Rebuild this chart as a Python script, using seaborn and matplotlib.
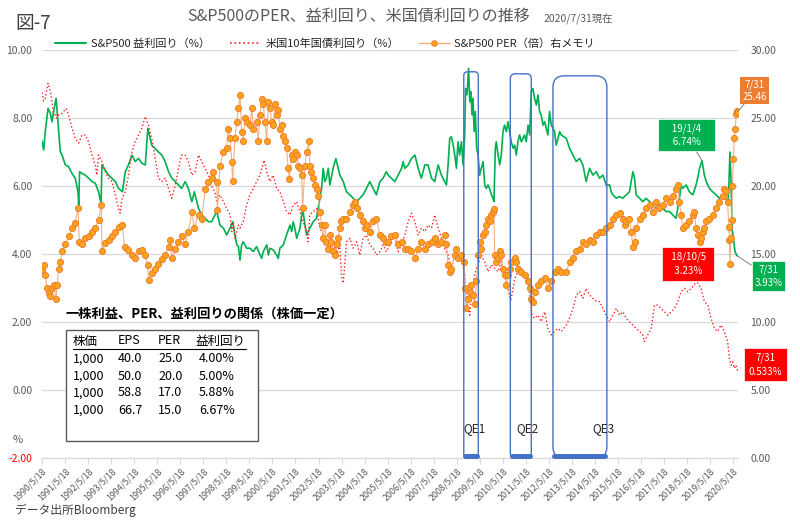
import matplotlib
matplotlib.use("Agg")
import matplotlib.pyplot as plt
from matplotlib.lines import Line2D
from matplotlib.patches import FancyBboxPatch, Rectangle
from matplotlib.ticker import FormatStrFormatter
import pandas as pd
import seaborn as sns

# S&P500 PER (right axis), x in decimal years
per_year = [
    1990.38, 1990.45, 1990.52, 1990.60, 1990.67, 1990.74, 1990.81, 1990.88, 1990.99, 1991.03,
    1991.10, 1991.17, 1991.25, 1991.39, 1991.53, 1991.68, 1991.82, 1991.94, 1992.00, 1992.11,
    1992.26, 1992.40, 1992.55, 1992.69, 1992.83, 1992.95, 1992.98, 1993.12, 1993.27, 1993.41,
    1993.56, 1993.70, 1993.87, 1993.96, 1994.13, 1994.28, 1994.42, 1994.57, 1994.71, 1994.86,
    1994.96, 1995.00, 1995.14, 1995.29, 1995.43, 1995.58, 1995.72, 1995.87, 1995.94, 1996.01,
    1996.16, 1996.30, 1996.44, 1996.59, 1996.73, 1996.88, 1996.99, 1997.17, 1997.31, 1997.46,
    1997.60, 1997.74, 1997.81, 1997.96, 1997.99, 1998.10, 1998.25, 1998.39, 1998.46, 1998.54,
    1998.61, 1998.65, 1998.75, 1998.83, 1998.90, 1998.97, 1999.04, 1999.11, 1999.19, 1999.26,
    1999.40, 1999.48, 1999.55, 1999.69, 1999.76, 1999.84, 1999.91, 1999.98, 2000.05, 2000.13,
    2000.20, 2000.27, 2000.34, 2000.41, 2000.49, 2000.56, 2000.63, 2000.70, 2000.78, 2000.85,
    2000.92, 2000.99, 2001.06, 2001.11, 2001.21, 2001.28, 2001.35, 2001.43, 2001.50, 2001.57,
    2001.64, 2001.69, 2001.79, 2001.86, 2001.96, 2002.00, 2002.07, 2002.15, 2002.22, 2002.29,
    2002.36, 2002.44, 2002.51, 2002.58, 2002.65, 2002.72, 2002.80, 2002.87, 2002.94, 2003.01,
    2003.11, 2003.16, 2003.23, 2003.30, 2003.37, 2003.45, 2003.59, 2003.74, 2003.88, 2003.95,
    2004.03, 2004.17, 2004.31, 2004.39, 2004.46, 2004.60, 2004.75, 2004.89, 2005.04, 2005.18,
    2005.32, 2005.40, 2005.54, 2005.69, 2005.83, 2005.98, 2006.12, 2006.27, 2006.41, 2006.56,
    2006.70, 2006.84, 2006.99, 2007.13, 2007.28, 2007.42, 2007.57, 2007.71, 2007.85, 2007.93,
    2008.00, 2008.07, 2008.14, 2008.29, 2008.36, 2008.43, 2008.58, 2008.69, 2008.75, 2008.79,
    2008.87, 2008.94, 2009.01, 2009.08, 2009.15, 2009.23, 2009.30, 2009.37, 2009.44, 2009.52,
    2009.59, 2009.66, 2009.73, 2009.80, 2009.88, 2009.95, 2009.99, 2010.02, 2010.09, 2010.17,
    2010.24, 2010.31, 2010.38, 2010.45, 2010.53, 2010.60, 2010.67, 2010.74, 2010.89, 2010.96,
    2011.03, 2011.18, 2011.32, 2011.47, 2011.54, 2011.61, 2011.68, 2011.75, 2011.90, 2012.04,
    2012.19, 2012.33, 2012.48, 2012.62, 2012.77, 2012.91, 2013.13, 2013.27, 2013.42, 2013.56,
    2013.71, 2013.85, 2013.99, 2014.14, 2014.28, 2014.43, 2014.57, 2014.72, 2014.86, 2015.01,
    2015.15, 2015.30, 2015.44, 2015.58, 2015.66, 2015.73, 2015.87, 2015.95, 2016.02, 2016.09,
    2016.16, 2016.31, 2016.45, 2016.59, 2016.74, 2016.88, 2017.03, 2017.17, 2017.32, 2017.46,
    2017.61, 2017.75, 2017.89, 2017.97, 2018.04, 2018.11, 2018.18, 2018.33, 2018.47, 2018.62,
    2018.69, 2018.76, 2018.83, 2018.91, 2018.98, 2019.05, 2019.12, 2019.20, 2019.34, 2019.48,
    2019.63, 2019.77, 2019.92, 2019.99, 2020.06, 2020.13, 2020.18, 2020.20, 2020.23, 2020.27,
    2020.30, 2020.34, 2020.38, 2020.42, 2020.46, 2020.50, 2020.54, 2020.58,
]
per_value = [
    13.8, 14.2, 13.45, 12.5, 12.1, 11.9, 12.5, 12.7, 11.7, 12.7,
    13.9, 14.4, 15.2, 15.7, 16.3, 16.9, 17.3, 18.4, 15.9, 15.7,
    16.2, 16.3, 16.6, 16.9, 17.5, 18.6, 15.2, 15.8, 16.0, 16.3,
    16.6, 17.0, 17.1, 15.5, 15.3, 14.9, 14.7, 15.2, 15.3, 14.9,
    14.2, 13.1, 13.6, 13.9, 14.3, 14.6, 14.9, 15.5, 16.0, 14.7,
    15.4, 15.9, 16.3, 15.7, 16.6, 18.1, 16.9, 17.9, 17.6, 19.8,
    20.3, 20.6, 21.0, 20.3, 18.2, 21.5, 22.5, 22.8, 24.2, 23.5,
    21.8, 20.4, 23.5, 24.7, 25.7, 26.7, 24.0, 23.3, 25.0, 24.7,
    24.5, 25.7, 24.2, 24.7, 23.3, 25.2, 26.4, 26.0, 24.7, 23.3,
    26.2, 25.7, 24.7, 24.5, 26.0, 25.2, 25.6, 24.2, 24.5, 23.7,
    23.3, 22.8, 21.3, 20.5, 22.3, 22.0, 22.5, 22.3, 21.5, 21.3,
    20.8, 18.4, 21.5, 22.5, 23.3, 21.5, 21.0, 20.6, 20.1, 19.8,
    19.3, 18.1, 17.1, 16.2, 17.1, 15.9, 15.4, 16.4, 15.9, 15.2,
    14.9, 15.7, 16.2, 16.9, 17.4, 17.6, 17.6, 18.1, 18.6, 18.8,
    18.4, 17.9, 17.4, 16.9, 17.1, 16.6, 17.4, 17.6, 16.4, 16.2,
    15.9, 15.9, 16.3, 16.4, 15.7, 15.9, 15.4, 15.4, 15.2, 14.7,
    15.4, 15.9, 15.4, 15.7, 15.9, 16.2, 15.7, 15.9, 16.4, 15.7,
    14.2, 13.7, 13.9, 14.9, 15.4, 14.7, 14.9, 14.4, 12.5, 11.0,
    11.7, 12.2, 12.7, 12.0, 11.3, 13.0, 14.9, 15.9, 15.4, 16.4,
    16.6, 17.1, 17.6, 17.4, 17.9, 18.1, 18.3, 14.9, 14.4, 14.7,
    15.2, 14.9, 13.9, 13.45, 12.7, 13.45, 13.9, 14.4, 14.7, 14.4,
    13.9, 13.7, 13.45, 13.0, 12.5, 11.7, 11.5, 12.2, 12.7, 13.0,
    13.2, 12.5, 13.0, 13.7, 13.9, 13.7, 13.7, 14.4, 14.7, 15.2,
    15.4, 15.9, 15.7, 16.0, 15.9, 16.4, 16.6, 16.6, 16.9, 17.1,
    17.6, 17.9, 18.0, 17.6, 17.1, 17.4, 17.6, 16.6, 15.5, 15.9,
    16.9, 17.6, 17.9, 18.4, 18.6, 18.1, 18.8, 18.4, 18.6, 19.1,
    18.8, 19.3, 19.8, 20.1, 18.8, 17.9, 16.9, 17.1, 17.4, 17.9,
    18.1, 16.9, 16.4, 15.9, 16.2, 16.6, 16.9, 17.4, 17.6, 17.9,
    18.4, 18.8, 19.3, 19.8, 19.6, 18.8, 17.0, 16.0, 14.3, 16.2,
    17.5, 20.0, 22.0, 23.5, 24.2, 25.3, 25.5, 25.46,
]

# S&P500 earnings yield (%), left axis
ey_year = [
    1990.38, 1990.45, 1990.52, 1990.64, 1990.74, 1990.81, 1990.88, 1990.96, 1990.99, 1991.07,
    1991.17, 1991.25, 1991.39, 1991.53, 1991.68, 1991.82, 1991.94, 1991.97, 1992.01, 1992.11,
    1992.26, 1992.40, 1992.55, 1992.69, 1992.83, 1992.94, 1992.98, 1993.12, 1993.27, 1993.41,
    1993.56, 1993.70, 1993.87, 1993.99, 1994.13, 1994.28, 1994.42, 1994.57, 1994.71, 1994.86,
    1994.97, 1995.07, 1995.14, 1995.29, 1995.43, 1995.58, 1995.72, 1995.87, 1996.01, 1996.16,
    1996.30, 1996.44, 1996.59, 1996.73, 1996.88, 1996.99, 1997.17, 1997.31, 1997.46, 1997.60,
    1997.74, 1997.81, 1997.96, 1998.10, 1998.25, 1998.39, 1998.54, 1998.65, 1998.75, 1998.83,
    1998.90, 1998.97, 1999.04, 1999.11, 1999.26, 1999.40, 1999.55, 1999.69, 1999.84, 1999.91,
    1999.98, 2000.13, 2000.20, 2000.27, 2000.41, 2000.56, 2000.63, 2000.70, 2000.85, 2000.99,
    2001.14, 2001.21, 2001.28, 2001.35, 2001.43, 2001.57, 2001.69, 2001.79, 2001.86, 2002.00,
    2002.15, 2002.29, 2002.44, 2002.51, 2002.58, 2002.65, 2002.72, 2002.80, 2002.87, 2003.01,
    2003.13, 2003.23, 2003.30, 2003.45, 2003.59, 2003.74, 2003.88, 2004.03, 2004.17, 2004.31,
    2004.46, 2004.60, 2004.75, 2004.89, 2005.04, 2005.18, 2005.32, 2005.40, 2005.54, 2005.69,
    2005.83, 2005.98, 2006.05, 2006.12, 2006.27, 2006.41, 2006.56, 2006.70, 2006.84, 2006.99,
    2007.13, 2007.28, 2007.42, 2007.57, 2007.71, 2007.85, 2007.93, 2008.00, 2008.07, 2008.14,
    2008.22, 2008.29, 2008.36, 2008.43, 2008.50, 2008.58, 2008.65, 2008.72, 2008.76, 2008.82,
    2008.87, 2008.89, 2008.94, 2008.98, 2009.04, 2009.08, 2009.13, 2009.18, 2009.24, 2009.30,
    2009.37, 2009.44, 2009.52, 2009.59, 2009.66, 2009.73, 2009.80, 2009.88, 2009.95, 2009.99,
    2010.05, 2010.09, 2010.17, 2010.24, 2010.31, 2010.38, 2010.45, 2010.53, 2010.60, 2010.67,
    2010.74, 2010.82, 2010.89, 2010.96, 2011.03, 2011.10, 2011.18, 2011.25, 2011.32, 2011.39,
    2011.47, 2011.54, 2011.61, 2011.68, 2011.75, 2011.83, 2011.90, 2011.97, 2012.04, 2012.12,
    2012.19, 2012.26, 2012.33, 2012.40, 2012.48, 2012.55, 2012.62, 2012.69, 2012.77, 2012.84,
    2012.91, 2013.13, 2013.27, 2013.42, 2013.56, 2013.71, 2013.85, 2013.99, 2014.14, 2014.28,
    2014.43, 2014.57, 2014.72, 2014.86, 2015.01, 2015.08, 2015.15, 2015.30, 2015.44, 2015.58,
    2015.73, 2015.87, 2016.02, 2016.09, 2016.16, 2016.31, 2016.45, 2016.59, 2016.74, 2016.88,
    2017.03, 2017.17, 2017.32, 2017.46, 2017.61, 2017.75, 2017.89, 2018.04, 2018.11, 2018.18,
    2018.33, 2018.47, 2018.62, 2018.76, 2018.83, 2018.91, 2019.02, 2019.12, 2019.20, 2019.34,
    2019.48, 2019.63, 2019.77, 2019.92, 2020.06, 2020.13, 2020.18, 2020.23, 2020.28, 2020.32,
    2020.38, 2020.45, 2020.52, 2020.58,
]
ey_value = [
    7.32, 7.06, 7.6, 8.28, 8.14, 7.89, 8.19, 8.48, 8.58, 7.89,
    7.01, 6.91, 6.62, 6.57, 6.37, 6.23, 5.83, 5.44, 6.42, 6.37,
    6.32, 6.23, 6.13, 6.08, 5.83, 5.49, 6.62, 6.47, 6.32, 6.23,
    6.13, 5.93, 5.83, 6.42, 6.62, 6.91, 6.72, 6.81, 6.67, 6.62,
    7.7, 7.4, 7.2, 7.1, 7.0, 6.91, 6.72, 6.42, 6.23, 6.13,
    6.03, 5.93, 6.13, 5.93, 5.54, 5.83, 5.34, 5.15, 5.05, 4.95,
    4.95, 5.05, 5.25, 4.85, 4.76, 4.56, 4.76, 4.95, 4.56, 4.27,
    4.22, 3.82, 4.27, 4.36, 4.17, 4.17, 4.07, 4.22, 3.97, 3.87,
    4.07, 4.27, 3.97, 4.17, 4.12, 3.97, 3.87, 4.17, 4.27, 4.56,
    4.85, 4.66, 4.95, 4.76, 4.46, 4.76, 5.34, 4.85, 4.56, 4.76,
    4.95, 5.05, 5.64, 5.93, 6.52, 6.13, 6.23, 6.52, 6.03, 6.52,
    6.81, 6.52, 6.32, 6.13, 5.83, 5.74, 5.64, 5.54, 5.64, 5.74,
    5.93, 6.13, 5.93, 5.74, 6.13, 6.23, 6.42, 6.32, 6.23, 6.13,
    6.32, 6.52, 6.72, 6.52, 6.62, 6.81, 6.91, 6.52, 6.23, 6.62,
    6.62, 6.23, 6.13, 6.62, 6.32, 6.13, 6.03, 6.62, 7.4, 7.45,
    7.2, 6.91, 6.52, 7.3, 6.91, 7.3, 6.62, 7.5, 8.87, 8.68,
    9.26, 9.46, 8.48, 8.78, 8.09, 8.58, 7.6, 8.19, 7.11, 6.91,
    6.32, 6.52, 6.72, 6.03, 5.93, 6.03, 5.93, 5.74, 5.64, 5.54,
    7.11, 7.3, 6.91, 6.62, 6.91, 7.6, 7.79, 7.6, 7.89, 7.6,
    7.3, 7.11, 7.2, 6.91, 7.3, 7.5, 7.3, 7.4, 7.5, 7.3,
    7.79, 7.5, 8.78, 8.87, 8.58, 8.38, 8.68, 8.19, 8.09, 7.79,
    7.89, 7.7, 7.5, 8.19, 7.79, 7.7, 7.6, 7.2, 7.4, 7.6,
    7.5, 7.4, 7.11, 6.91, 6.72, 6.81, 6.62, 6.13, 6.52, 6.32,
    6.42, 6.23, 6.32, 6.03, 6.03, 5.83, 5.74, 5.64, 5.69, 5.64,
    5.74, 5.83, 6.42, 6.23, 5.74, 5.64, 5.54, 5.64, 5.54, 5.44,
    5.34, 5.44, 5.34, 5.25, 5.25, 5.15, 5.05, 5.64, 6.03, 5.93,
    6.03, 5.83, 5.74, 6.03, 6.23, 6.52, 6.74, 6.32, 6.13, 5.93,
    5.83, 5.74, 5.64, 5.74, 5.64, 5.44, 5.93, 7.0, 6.13, 4.76,
    4.46, 4.07, 3.97, 3.93,
]

# US 10-year treasury yield (%), left axis
ust_year = [
    1990.38, 1990.45, 1990.52, 1990.64, 1990.74, 1990.81, 1990.88, 1990.96, 1991.03, 1991.10,
    1991.25, 1991.42, 1991.53, 1991.68, 1991.82, 1991.97, 1992.11, 1992.26, 1992.40, 1992.55,
    1992.69, 1992.76, 1992.83, 1992.98, 1993.12, 1993.27, 1993.41, 1993.56, 1993.70, 1993.77,
    1993.85, 1993.99, 1994.13, 1994.28, 1994.42, 1994.57, 1994.71, 1994.86, 1995.00, 1995.14,
    1995.29, 1995.43, 1995.58, 1995.72, 1995.87, 1996.01, 1996.16, 1996.30, 1996.44, 1996.59,
    1996.73, 1996.88, 1997.02, 1997.17, 1997.31, 1997.46, 1997.60, 1997.74, 1997.89, 1997.96,
    1998.10, 1998.25, 1998.39, 1998.54, 1998.61, 1998.68, 1998.75, 1998.83, 1998.90, 1998.97,
    1999.11, 1999.26, 1999.40, 1999.55, 1999.69, 1999.84, 2000.02, 2000.13, 2000.27, 2000.41,
    2000.56, 2000.70, 2000.85, 2000.99, 2001.14, 2001.28, 2001.43, 2001.57, 2001.71, 2001.86,
    2001.93, 2002.00, 2002.15, 2002.29, 2002.44, 2002.58, 2002.72, 2002.87, 2003.01, 2003.16,
    2003.30, 2003.37, 2003.45, 2003.52, 2003.59, 2003.74, 2003.88, 2004.03, 2004.17, 2004.31,
    2004.46, 2004.60, 2004.75, 2004.89, 2005.04, 2005.18, 2005.32, 2005.40, 2005.54, 2005.69,
    2005.83, 2005.98, 2006.12, 2006.27, 2006.41, 2006.56, 2006.70, 2006.84, 2006.99, 2007.13,
    2007.28, 2007.42, 2007.57, 2007.71, 2007.85, 2008.00, 2008.14, 2008.29, 2008.43, 2008.58,
    2008.72, 2008.79, 2008.87, 2008.94, 2009.01, 2009.08, 2009.15, 2009.23, 2009.30, 2009.44,
    2009.59, 2009.73, 2009.88, 2010.02, 2010.17, 2010.31, 2010.45, 2010.60, 2010.71, 2010.82,
    2010.89, 2011.03, 2011.18, 2011.32, 2011.47, 2011.58, 2011.64, 2011.75, 2011.90, 2012.04,
    2012.19, 2012.33, 2012.48, 2012.62, 2012.77, 2012.91, 2013.13, 2013.27, 2013.42, 2013.56,
    2013.71, 2013.85, 2013.99, 2014.14, 2014.28, 2014.43, 2014.57, 2014.72, 2014.86, 2015.01,
    2015.15, 2015.30, 2015.44, 2015.58, 2015.73, 2015.87, 2016.02, 2016.16, 2016.31, 2016.45,
    2016.52, 2016.67, 2016.81, 2016.96, 2017.10, 2017.24, 2017.39, 2017.53, 2017.68, 2017.82,
    2017.97, 2018.11, 2018.26, 2018.40, 2018.55, 2018.69, 2018.76, 2018.98, 2019.12, 2019.27,
    2019.41, 2019.56, 2019.70, 2019.84, 2019.99, 2020.13, 2020.21, 2020.28, 2020.35, 2020.42,
    2020.49, 2020.58,
]
ust_value = [
    8.75, 8.5, 8.58, 9.02, 8.78, 8.48, 8.09, 8.14, 7.99, 8.09,
    8.14, 8.28, 8.09, 7.7, 7.4, 7.26, 7.5, 7.5, 7.3, 6.91,
    6.62, 6.32, 6.91, 6.72, 6.42, 6.23, 6.13, 5.74, 5.34, 5.2,
    5.64, 5.83, 6.32, 7.0, 7.3, 7.5, 7.7, 8.04, 7.79, 7.4,
    6.81, 6.23, 6.13, 6.23, 5.93, 5.64, 6.03, 6.52, 6.91, 6.91,
    6.72, 6.32, 6.42, 6.91, 6.72, 6.52, 6.32, 6.0, 5.8, 5.54,
    5.74, 5.54, 5.34, 5.15, 4.66, 4.95, 4.46, 4.66, 4.85, 4.76,
    4.95, 5.44, 5.74, 5.93, 6.13, 6.32, 6.76, 6.42, 6.13, 6.32,
    5.93, 5.83, 5.54, 5.25, 5.15, 5.44, 5.54, 5.25, 4.95, 4.66,
    4.36, 5.15, 5.25, 5.34, 4.76, 4.56, 4.36, 4.17, 4.36, 3.97,
    4.27, 3.38, 3.14, 3.77, 4.36, 4.46, 4.17, 4.36, 3.97, 4.46,
    4.56, 4.27, 4.17, 3.97, 4.07, 4.27, 4.07, 4.17, 4.36, 4.56,
    4.07, 4.27, 4.56, 4.95, 5.2, 4.95, 4.56, 4.76, 4.66, 4.85,
    4.76, 5.15, 4.76, 4.46, 4.17, 3.97, 3.58, 3.97, 3.77, 3.97,
    3.38, 2.79, 2.4, 2.2, 2.7, 3.09, 3.38, 3.58, 3.68, 3.97,
    3.77, 3.48, 3.68, 3.58, 3.48, 3.77, 3.38, 2.99, 2.6, 2.99,
    3.28, 3.48, 3.58, 3.38, 3.19, 2.6, 2.2, 2.11, 2.2, 2.01,
    2.3, 1.81, 1.62, 1.72, 1.81, 1.72, 1.91, 2.11, 2.4, 2.79,
    2.89, 2.7, 2.99, 2.79, 2.7, 2.6, 2.6, 2.4, 2.2, 2.01,
    2.2, 2.4, 2.2, 2.3, 2.11, 2.01, 1.91, 1.81, 1.72, 1.62,
    1.42, 1.62, 1.81, 2.5, 2.5, 2.4, 2.3, 2.2, 2.3, 2.4,
    2.6, 2.89, 2.99, 2.89, 2.99, 3.09, 3.23, 2.99, 2.6, 2.5,
    2.11, 1.81, 1.72, 1.91, 1.72, 1.42, 0.93, 0.73, 0.83, 0.64,
    0.73, 0.533,
]

# QE periods as marked on the chart
qe_names = ["QE1", "QE2", "QE3"]
qe_start = [2008.68, 2010.70, 2012.55]
qe_end = [2009.31, 2011.61, 2014.89]

tick_years = list(range(1990, 2021))
tick_labels = [f"{y}/5/18" for y in tick_years]

legend_labels = ["S&P500 益利回り（%）", "米国10年国債利回り（%）", "S&P500 PER（倍）右メモリ"]

table_header = ["株価", "EPS", "PER", "益利回り"]
table_price = ["1,000", "1,000", "1,000", "1,000"]
table_eps = ["40.0", "50.0", "58.8", "66.7"]
table_per = ["25.0", "20.0", "17.0", "15.0"]
table_yield = ["4.00%", "5.00%", "5.88%", "6.67%"]

GREEN = "#00B050"
RED = "#FF2020"
ORANGE_LINE = "#F4B183"
ORANGE_FACE = "#FFA31A"
ORANGE_EDGE = "#ED7D31"
QE_BLUE = "#4472C4"
GRID = "#D9D9D9"
LABEL = "#595959"

sns.set_theme(style="white")
plt.rcParams["font.family"] = ["Noto Sans CJK JP", "DejaVu Sans"]
plt.rcParams["axes.unicode_minus"] = False

W, H = 800, 525
fig = plt.figure(figsize=(W / 100, H / 100), dpi=100)


def fx(px):
    return px / W


def fy(py):
    return 1 - py / H


ax = fig.add_axes([fx(42), fy(458), fx(738) - fx(42), fy(50) - fy(458)])
ax2 = ax.twinx()

ey_df = pd.DataFrame({"year": ey_year, "value": ey_value})
ust_df = pd.DataFrame({"year": ust_year, "value": ust_value})
per_df = pd.DataFrame({"year": per_year, "value": per_value})

sns.lineplot(data=ey_df, x="year", y="value", ax=ax, color=GREEN, linewidth=1.2,
             estimator=None, sort=False)
sns.lineplot(data=ust_df, x="year", y="value", ax=ax, color=RED, linewidth=1.0,
             linestyle=":", estimator=None, sort=False)
sns.lineplot(data=per_df, x="year", y="value", ax=ax2, color=ORANGE_LINE, linewidth=0.8,
             marker="o", markersize=4.4, markerfacecolor=ORANGE_FACE,
             markeredgecolor=ORANGE_EDGE, markeredgewidth=0.7, estimator=None, sort=False)

ax.set_xlim(1990.378, 2020.58)
ax.set_ylim(-2, 10)
ax2.set_ylim(0, 30)
for a in (ax, ax2):
    a.set_xlabel("")
    a.set_ylabel("")

# x axis: one tick per year on 5/18
ax.set_xticks([y + 0.378 for y in tick_years])
ax.set_xticklabels(tick_labels, rotation=45, ha="right", va="top",
                   rotation_mode="anchor", fontsize=6.4, color=LABEL)
ax.tick_params(axis="x", bottom=True, length=4, width=0.8, color=GRID, pad=2)

ax.set_yticks(range(-2, 11, 2))
ax.yaxis.set_major_formatter(FormatStrFormatter("%.2f"))
ax.tick_params(axis="y", left=False, length=0, labelsize=7.5, labelcolor=LABEL, pad=7)
ax.yaxis.get_major_ticks()[0].label1.set_color("#FF0000")
ax.grid(axis="y", color=GRID, linewidth=0.9)
ax.grid(axis="x", visible=False)

ax2.set_yticks(range(0, 31, 5))
ax2.yaxis.set_major_formatter(FormatStrFormatter("%.2f"))
ax2.tick_params(axis="y", right=False, length=0, labelsize=7.5, labelcolor=LABEL, pad=9)
ax2.grid(False)

for side in ("left", "right", "top"):
    ax.spines[side].set_visible(False)
ax.spines["bottom"].set_color(GRID)
ax.spines["bottom"].set_linewidth(0.9)
for s in ax2.spines.values():
    s.set_visible(False)

# QE boxes, rounded corners kept circular on screen
p0 = ax2.transData.transform((2000.0, 0.0))
p1 = ax2.transData.transform((2001.0, 1.0))
aspect = (p1[0] - p0[0]) / (p1[1] - p0[1])
box_tops = [28.4, 28.25, 28.1]
box_round = [0.17, 0.22, 0.48]
for name, s, e, top, r in zip(qe_names, qe_start, qe_end, box_tops, box_round):
    ax2.add_patch(FancyBboxPatch((s, 0), e - s, top,
                                 boxstyle=f"round,pad=0,rounding_size={r}",
                                 mutation_aspect=aspect, fill=False, ec=QE_BLUE,
                                 lw=1.0, clip_on=False, zorder=6))
    ax2.plot([s + 0.06, e - 0.06], [0.12, 0.12], color=QE_BLUE, lw=3.6,
             solid_capstyle="round", clip_on=False, zorder=7)
    ax2.text(e - 0.17, 2.2, name, ha="center", va="center", fontsize=8.5,
             color="#262626", zorder=7)

# callout labels
gray_arrow = dict(arrowstyle="-", color="#7F7F7F", lw=0.7, shrinkA=0, shrinkB=0)
ax2.annotate("7/31\n25.46", xy=(per_year[-1], per_value[-1]), xytext=(12, 15),
             textcoords="offset points", ha="center", va="center", fontsize=7,
             color="white", linespacing=1.25, annotation_clip=False, zorder=8,
             bbox=dict(boxstyle="square,pad=0.2", fc=ORANGE_EDGE, ec="none"),
             arrowprops=gray_arrow)
ax2.annotate("\u300019/1/4\u3000\n\u30006.74%\u3000", xy=(2019.02, 6.74), xycoords=ax.transData,
             xytext=(-11, 18.5), textcoords="offset points", ha="center", va="center",
             fontsize=7, color="white", linespacing=1.45, annotation_clip=False, zorder=8,
             bbox=dict(boxstyle="square,pad=0.4", fc=GREEN, ec="white", lw=0.5),
             arrowprops=gray_arrow)
ax2.annotate("7/31\n3.93%", xy=(ey_year[-1], ey_value[-1]), xycoords=ax.transData,
             xytext=(22, -14.5), textcoords="offset points", ha="center", va="center",
             fontsize=7, color="white", linespacing=1.4, annotation_clip=False, zorder=8,
             bbox=dict(boxstyle="square,pad=0.3", fc=GREEN, ec="white", lw=0.5),
             arrowprops=gray_arrow)
ax2.annotate("  18/10/5  \n  3.23%  ", xy=(2018.76, 3.23), xycoords=ax.transData,
             xytext=(-5.5, 11.7), textcoords="offset points", ha="center", va="center",
             fontsize=7, color="white", linespacing=1.5, annotation_clip=False, zorder=8,
             bbox=dict(boxstyle="square,pad=0.45", fc="#FF0000", ec="white", lw=0.5))
ax2.annotate("7/31\n0.533%", xy=(ust_year[-1], ust_value[-1]), xycoords=ax.transData,
             xytext=(19.8, 5), textcoords="offset points", ha="center", va="center",
             fontsize=7, color="white", linespacing=1.45, annotation_clip=False, zorder=8,
             bbox=dict(boxstyle="square,pad=0.45", fc="#FF0000", ec="white", lw=0.5))

# legend
handles = [
    Line2D([], [], color=GREEN, lw=1.5),
    Line2D([], [], color=RED, lw=1.2, ls=":"),
    Line2D([], [], color=ORANGE_LINE, lw=1.0, marker="o", ms=4, mfc=ORANGE_FACE,
           mec=ORANGE_EDGE, mew=0.7),
]
fig.legend(handles, legend_labels, loc="center", bbox_to_anchor=(fx(325), fy(44)),
           ncol=3, frameon=False, fontsize=8, handlelength=2.8, handletextpad=0.4,
           columnspacing=1.8, labelcolor="#262626")

# titles and notes
fig.text(fx(15), fy(23), "図-7", fontsize=13.5, color="#404040", ha="left", va="center")
fig.text(fx(359), fy(16), "S&P500のPER、益利回り、米国債利回りの推移", fontsize=11.5,
         color=LABEL, ha="center", va="center")
fig.text(fx(544), fy(19), "2020/7/31現在", fontsize=7.5, color=LABEL, ha="left", va="center")
fig.text(fx(15), fy(510), "データ出所Bloomberg", fontsize=8.5, color="#404040",
         ha="left", va="center")
fig.text(fx(18), fy(440), "%", fontsize=8, color=LABEL, ha="center", va="center")

# EPS / PER / yield relation table
fig.text(fx(65), fy(314), "一株利益、PER、益利回りの関係（株価一定）", fontsize=9.5,
         fontweight="bold", color="black", ha="left", va="center")
fig.add_artist(Rectangle((fx(66), fy(441)), fx(258) - fx(66), fy(330) - fy(441),
                         transform=fig.transFigure, fc="white", ec="#595959", lw=1.0,
                         zorder=2.5))
col_x = [73, 118, 158, 196]
for j, head in enumerate(table_header):
    fig.text(fx(col_x[j]), fy(341), head, fontsize=9, color="black", ha="left",
             va="center", zorder=3)
fig.add_artist(Line2D([fx(73), fx(246)], [fy(349), fy(349)], transform=fig.transFigure,
                      color="black", lw=0.8, zorder=3))
row_y = [359, 376, 393, 410]
row_x = [73, 118, 158, 199]
for i, row in enumerate(zip(table_price, table_eps, table_per, table_yield)):
    for j, cell in enumerate(row):
        fig.text(fx(row_x[j]), fy(row_y[i]), cell, fontsize=9, color="black",
                 ha="left", va="center", zorder=3)

fig.savefig("out.png", dpi=100)
